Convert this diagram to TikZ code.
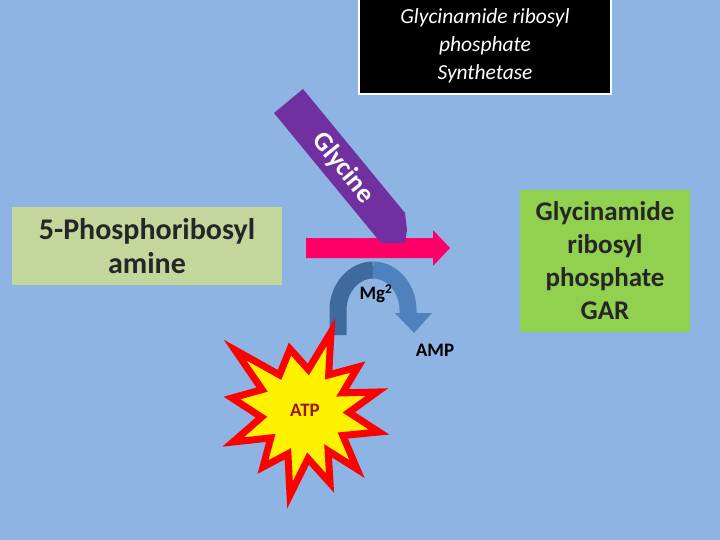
\documentclass[tikz,border=0pt]{standalone}
\usepackage{fontspec}
\setmainfont{Carlito}
\begin{document}
\begin{tikzpicture}[x=1pt,y=-1pt,
  lbl/.style={font=\bfseries\fontsize{27}{33}\selectfont,align=center,text=black!85},
  small/.style={font=\bfseries\fontsize{19}{21}\selectfont}]
\useasboundingbox (0,0) rectangle (720,540);
\fill[fill={rgb,255:red,141;green,180;blue,226}] (0,0) rectangle (720,540);
% enzyme box
\node (enz) [draw=white,line width=2.5pt,fill=black,minimum width=252,minimum height=96,inner sep=0,
  text=white,align=center,font=\itshape\fontsize{21.5}{28}\selectfont] at (485,46)
  {Glycinamide ribosyl\\phosphate\\Synthetase};
% substrate
\node (sub) [fill={rgb,255:red,195;green,214;blue,155},minimum width=270,minimum height=78,inner sep=0,lbl,font=\bfseries\fontsize{30}{34}\selectfont] at (147,246)
  {5-Phosphoribosyl\\amine};
% product
\node (prod) [fill={rgb,255:red,146;green,208;blue,80},minimum width=170,minimum height=142,inner sep=0,lbl] at (605,261)
  {Glycinamide\\ribosyl\\phosphate\\GAR};
% pink arrow
\fill[fill={rgb,255:red,255;green,0;blue,102}] (306,238) -- (433,238) -- (433,230) -- (450,248) -- (433,266) -- (433,258) -- (306,258) -- cycle;
% glycine arrow
\fill[fill={rgb,255:red,112;green,48;blue,160}] (303,89) -- (405,213) -- (407,230) -- (405,243) -- (381,243) -- (274,113) -- cycle;
\node (gly) [text=white,font=\bfseries\fontsize{27}{28}\selectfont,rotate=-51] at (343,168) {Glycine};
% curved arrow
\draw[line width=17pt,color={rgb,255:red,62;green,106;blue,158}] (338,335) -- (338,310) .. controls (338,288) and (354,270) .. (373,270);
\draw[line width=17pt,color={rgb,255:red,79;green,129;blue,189}] (373,270) .. controls (392,270) and (408,288) .. (408,310) -- (408,314);
\fill[color={rgb,255:red,79;green,129;blue,189}] (395,313) -- (432,313) -- (414,333) -- cycle;
\node (mg) [small] at (376,294) {Mg\textsuperscript{2}};
\node (amp) [small] at (435,350) {AMP};
% ATP star
\filldraw[draw=red,fill=yellow,line width=7pt,line join=miter]
 (331,332) -- (328.7,374.9) -- (358,367) -- (342.5,392.9) -- (377,392) -- (348.8,412.4) -- (379,432) -- (342.8,435.5)
 -- (357,469) -- (328.1,450.8) -- (330,483) -- (308,458.6) -- (290,495) -- (287.9,453.8) -- (263,467) -- (270.8,437.9)
 -- (233,442) -- (261.5,417.2) -- (232,398) -- (262.1,389.6) -- (235,350) -- (279.5,374.9) -- (290,349) -- (308.3,369.5) -- cycle;
\node (atp) [font=\bfseries\fontsize{19}{21}\selectfont,text={rgb,255:red,160;green,20;blue,20}] at (305,410) {ATP};
\end{tikzpicture}
\end{document}
